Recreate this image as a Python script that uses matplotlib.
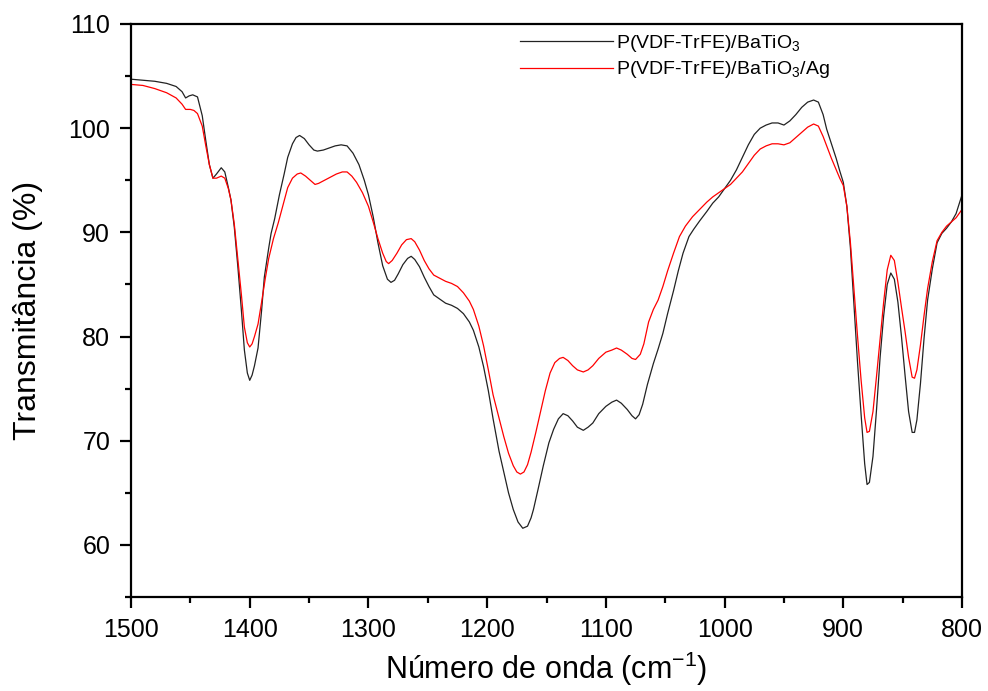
import matplotlib.pyplot as plt
import numpy as np

plt.rcParams['font.family'] = ['Liberation Sans', 'DejaVu Sans']
plt.rcParams['mathtext.fontset'] = 'custom'
plt.rcParams['mathtext.rm'] = 'Liberation Sans'
plt.rcParams['mathtext.it'] = 'Liberation Sans'

# wavenumber (cm-1) and transmittance (%)
wn_bto = [1500, 1490, 1480, 1470, 1462, 1457, 1454, 1451, 1448, 1444, 1440, 1437, 1434, 1431,
          1428, 1424, 1421, 1418, 1415.8, 1413, 1410, 1407, 1404.5, 1402, 1400, 1398, 1396, 1393,
          1390, 1387.7, 1384, 1382, 1379, 1375, 1371, 1368, 1364, 1361, 1358, 1354, 1350, 1346,
          1343, 1338, 1333, 1328, 1323, 1318, 1313, 1308, 1303.5, 1300, 1296, 1292, 1288, 1284,
          1281, 1278, 1275, 1271, 1267, 1264, 1261, 1257, 1253, 1249, 1245, 1240, 1235, 1230,
          1225, 1220, 1215, 1211.6, 1207, 1203, 1199, 1195, 1190, 1186, 1182, 1178, 1174, 1170,
          1166, 1163, 1161, 1157, 1152.7, 1148, 1144, 1140, 1136, 1132, 1128, 1124, 1119, 1115,
          1111, 1106, 1100, 1095, 1091, 1087, 1082, 1078, 1075, 1072, 1069, 1065, 1060, 1056,
          1052, 1048, 1043, 1039, 1035, 1030, 1026, 1021, 1015, 1010, 1005, 1000, 995, 990, 985,
          980, 975, 970, 965, 960, 955, 950, 945, 940, 935, 930, 925, 921, 917, 914, 910, 906,
          903, 900, 897, 894, 891, 888, 885, 882, 880, 878, 875, 872, 869, 866, 863, 860, 857,
          854, 851, 848, 845, 842, 840, 838, 835, 832, 829, 825, 821, 817, 813, 809, 805, 800]
t_bto = [104.7, 104.6, 104.5, 104.3, 104.0, 103.5, 102.9, 103.1, 103.2, 103.0, 101.2, 98.8, 96.5, 95.2,
         95.6, 96.2, 95.8, 94.3, 93.1, 90.5, 86.7, 82.5, 78.7, 76.5, 75.8, 76.3, 77.2, 78.9,
         82.5, 85.7, 88.5, 89.9, 91.3, 93.6, 95.6, 97.2, 98.5, 99.1, 99.3, 99.0, 98.4, 97.9,
         97.8, 97.9, 98.1, 98.3, 98.4, 98.3, 97.6, 96.5, 95.0, 93.6, 91.5, 89.0, 86.8, 85.5,
         85.2, 85.4, 86.0, 86.9, 87.5, 87.7, 87.4, 86.7, 85.7, 84.8, 84.0, 83.6, 83.2, 83.0,
         82.7, 82.2, 81.4, 80.6, 79.0, 77.1, 74.8, 72.1, 69.0, 67.0, 65.0, 63.4, 62.2, 61.6,
         61.8, 62.6, 63.4, 65.4, 67.6, 69.8, 71.1, 72.1, 72.6, 72.4, 71.9, 71.3, 71.0, 71.3,
         71.7, 72.6, 73.3, 73.7, 73.9, 73.6, 73.0, 72.4, 72.1, 72.5, 73.5, 75.4, 77.4, 78.8,
         80.3, 82.2, 84.4, 86.3, 88.0, 89.6, 90.3, 91.1, 92.0, 92.8, 93.4, 94.2, 95.0, 96.0, 97.2,
         98.4, 99.4, 100.0, 100.3, 100.5, 100.5, 100.3, 100.7, 101.3, 102.0, 102.5, 102.7, 102.5, 101.3, 99.9, 98.5, 97.1,
         95.9, 94.8, 92.5, 88.5, 83.0, 77.5, 72.5, 67.8, 65.8, 66.0, 68.5, 73.0, 78.0, 82.0, 85.0, 86.1, 85.5,
         83.3, 80.0, 76.3, 72.8, 70.8, 70.8, 72.0, 75.5, 79.8, 83.5, 86.5, 89.0, 89.9, 90.4, 91.0, 91.8, 93.6]

wn_ag = [1500, 1490, 1480, 1470, 1462, 1457, 1454, 1450, 1447, 1444, 1440, 1437, 1434, 1431,
         1428, 1424, 1421, 1418, 1415.8, 1413, 1410, 1407, 1404.5, 1402, 1400, 1398, 1396, 1393,
         1390, 1387, 1384, 1380, 1376, 1372, 1368, 1364, 1360, 1357, 1353, 1349, 1345, 1342,
         1337, 1332, 1327, 1322, 1318, 1314, 1310, 1305, 1300, 1296, 1292, 1288, 1285, 1283,
         1280, 1276, 1272, 1268, 1264, 1261, 1257, 1253, 1249, 1245, 1240, 1235, 1230, 1225,
         1220, 1215, 1211.6, 1207, 1203, 1199, 1195, 1190, 1186, 1182, 1178, 1175, 1172, 1169,
         1166, 1163, 1159, 1155, 1151, 1147, 1143, 1139, 1136, 1132, 1128, 1124, 1119, 1115,
         1111, 1106, 1100, 1095, 1091, 1087, 1082, 1078, 1075, 1071, 1068, 1064, 1060, 1056,
         1052, 1048, 1043, 1038, 1033, 1027, 1021, 1015, 1010, 1005, 1000, 995, 990, 985, 980,
         975, 970, 965, 960, 955, 950, 945, 940, 935, 930, 925, 921, 917, 914, 910, 906, 903,
         900, 897, 894, 891, 888, 885, 882, 880, 878, 875, 872, 869, 866, 863, 860, 857, 854,
         851, 848, 845, 842, 840, 838, 835, 832, 829, 825, 821, 817, 813, 809, 805, 800]
t_ag = [104.2, 104.1, 103.8, 103.4, 102.9, 102.3, 101.8, 101.8, 101.7, 101.4, 100.2, 98.3, 96.5, 95.2,
        95.2, 95.4, 95.2, 94.2, 93.1, 90.8, 87.4, 84.0, 80.9, 79.4, 79.0, 79.3, 80.0, 81.2,
        83.3, 85.5, 87.5, 89.4, 90.9, 92.6, 94.3, 95.2, 95.6, 95.7, 95.4, 95.0, 94.6, 94.7,
        95.0, 95.3, 95.6, 95.8, 95.8, 95.4, 94.8, 93.8, 92.5, 91.0, 89.4, 88.0, 87.2, 87.0,
        87.3, 88.0, 88.8, 89.3, 89.4, 89.1, 88.3, 87.3, 86.5, 85.9, 85.6, 85.3, 85.1, 84.8,
        84.2, 83.4, 82.6, 81.0, 79.1, 76.8, 74.4, 72.2, 70.4, 68.8, 67.6, 67.0, 66.8, 67.0,
        67.7, 68.9, 70.8, 72.8, 74.8, 76.5, 77.5, 77.9, 78.0, 77.7, 77.2, 76.8, 76.6, 76.8,
        77.2, 77.9, 78.5, 78.7, 78.9, 78.7, 78.3, 77.9, 77.8, 78.3, 79.3, 81.4, 82.6, 83.5,
        84.8, 86.3, 88.0, 89.6, 90.6, 91.5, 92.2, 92.9, 93.4, 93.8, 94.2, 94.6, 95.2, 95.8, 96.6,
        97.4, 98.0, 98.3, 98.5, 98.5, 98.4, 98.6, 99.1, 99.6, 100.1, 100.4, 100.2, 99.2, 98.3, 97.1, 96.0, 95.2,
        94.5, 92.5, 89.0, 84.5, 80.0, 75.8, 72.2, 70.8, 70.9, 72.8, 76.2, 79.8, 83.3, 86.4, 87.8, 87.3, 85.2,
        82.8, 80.5, 78.0, 76.1, 76.0, 76.8, 79.2, 82.0, 84.6, 87.2, 89.2, 90.0, 90.6, 91.0, 91.4, 92.2]

fig = plt.figure(figsize=(9.88, 6.91), dpi=100)
ax = fig.add_axes([0.1326, 0.136, 0.8411, 0.8293])

ax.plot(wn_bto, t_bto, color='#222222', lw=0.9, label='P(VDF-TrFE)/BaTiO$_3$')
ax.plot(wn_ag, t_ag, color='red', lw=0.9, label='P(VDF-TrFE)/BaTiO$_3$/Ag')

ax.set_xlim(1500, 800)
ax.set_ylim(55, 110)
ax.set_xticks(np.arange(800, 1501, 100))
ax.set_xticks(np.arange(850, 1500, 100), minor=True)
ax.set_yticks(np.arange(60, 111, 10))
ax.set_yticks(np.arange(55, 110, 10), minor=True)
ax.tick_params(which='major', direction='out', length=8, width=1.6, labelsize=18, pad=7)
ax.tick_params(which='minor', direction='out', length=4.5, width=1.6)
for s in ax.spines.values():
    s.set_linewidth(1.6)

ax.set_xlabel('Número de onda (cm$^{-1}$)', fontsize=22, labelpad=6)
ax.set_ylabel('Transmitância (%)', fontsize=23, labelpad=18)

ax.legend(loc='upper left', bbox_to_anchor=(0.468, 0.985), frameon=False, fontsize=14,
          handlelength=4.8, handletextpad=0.15, labelspacing=0.3, borderpad=0, borderaxespad=0)

fig.savefig('out.png', dpi=100)
